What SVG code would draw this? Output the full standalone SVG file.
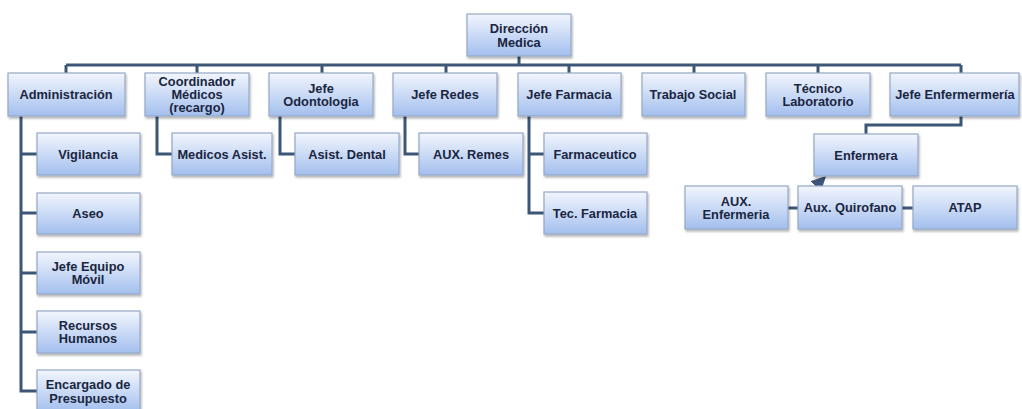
<svg xmlns="http://www.w3.org/2000/svg" width="1022" height="409" viewBox="0 0 1022 409">
<defs>
<linearGradient id="g" x1="0" y1="0" x2="0" y2="1">
<stop offset="0" stop-color="#f2f6fd"/>
<stop offset="1" stop-color="#a3bfee"/>
</linearGradient>
<filter id="sh" x="-10%" y="-10%" width="130%" height="140%">
<feDropShadow dx="1" dy="2" stdDeviation="1.2" flood-color="#000" flood-opacity="0.3"/>
</filter>
<marker id="ar" viewBox="0 0 10 10" refX="8" refY="5" markerWidth="5" markerHeight="5" orient="auto">
<path d="M0,0 L10,5 L0,10 z" fill="#3b5677"/>
</marker>
</defs>
<style>
rect{fill:url(#g);stroke:#95a8c6;stroke-width:1.2;filter:url(#sh)}
text{font-family:"Liberation Sans",Arial,sans-serif;font-weight:bold;font-size:12.8px;fill:#1a2540;text-anchor:middle;dominant-baseline:central}
.c{fill:none;stroke:#3b5677;stroke-width:3}
</style>
<g id="connectors">
<path class="c" d="M519,56 V65 M66,65 H961 M66,65 V73 M197,65 V73 M322,65 V73 M446,65 V73 M569,65 V73 M694,65 V73 M818,65 V73 M961,65 V73"/>
<path class="c" d="M21,116 V391 H37 M21,154 H37 M21,213 H37 M21,273 H37 M21,332 H37"/>
<path class="c" d="M157,116 V154 H172"/>
<path class="c" d="M280,116 V154 H295"/>
<path class="c" d="M405,116 V154 H419"/>
<path class="c" d="M529,116 V213 H544 M529,154 H544"/>
<path class="c" d="M961,116 V125 H866 V134"/>
<path class="c" d="M788,208 H798 M902,208 H913"/>
<path class="c" d="M816,186 L824,178" stroke-width="2.5" marker-end="url(#ar)"/>
</g>
<g id="direccion"><rect x="467" y="14" width="104" height="42"/><text x="519" y="28">Dirección</text><text x="519" y="42">Medica</text></g>
<g id="administracion"><rect x="8" y="73" width="117" height="43"/><text x="66" y="94.5">Administración</text></g>
<g id="coordinador"><rect x="145" y="73" width="104" height="43"/><text x="197" y="81">Coordinador</text><text x="197" y="94">Médicos</text><text x="197" y="107">(recargo)</text></g>
<g id="odontologia"><rect x="269" y="73" width="104" height="43"/><text x="321" y="88">Jefe</text><text x="321" y="101">Odontologia</text></g>
<g id="redes"><rect x="393" y="73" width="104" height="43"/><text x="445" y="94.5">Jefe Redes</text></g>
<g id="farmacia"><rect x="518" y="73" width="103" height="43"/><text x="569" y="94.5">Jefe Farmacia</text></g>
<g id="trabajo"><rect x="642" y="73" width="103" height="43"/><text x="693" y="94.5">Trabajo Social</text></g>
<g id="tecnico"><rect x="766" y="73" width="104" height="43"/><text x="818" y="88">Técnico</text><text x="818" y="101">Laboratorio</text></g>
<g id="jefe-enf"><rect x="890" y="73" width="129" height="43"/><text x="955" y="94.5">Jefe Enfermermería</text></g>
<g id="vigilancia"><rect x="37" y="133" width="103" height="42"/><text x="88" y="154">Vigilancia</text></g>
<g id="aseo"><rect x="37" y="193" width="103" height="41"/><text x="88" y="213">Aseo</text></g>
<g id="equipo"><rect x="37" y="252" width="103" height="42"/><text x="88" y="266">Jefe Equipo</text><text x="88" y="279">Móvil</text></g>
<g id="recursos"><rect x="37" y="311" width="103" height="42"/><text x="88" y="325">Recursos</text><text x="88" y="338">Humanos</text></g>
<g id="encargado"><rect x="37" y="370" width="103" height="42"/><text x="88" y="384">Encargado de</text><text x="88" y="398">Presupuesto</text></g>
<g id="medicos"><rect x="172" y="133" width="100" height="42"/><text x="222" y="154">Medicos Asist.</text></g>
<g id="dental"><rect x="295" y="133" width="104" height="42"/><text x="347" y="154">Asist. Dental</text></g>
<g id="remes"><rect x="419" y="133" width="104" height="42"/><text x="471" y="154">AUX. Remes</text></g>
<g id="farmaceutico"><rect x="544" y="133" width="103" height="42"/><text x="595" y="154">Farmaceutico</text></g>
<g id="tecfarmacia"><rect x="544" y="192" width="103" height="42"/><text x="595" y="213">Tec. Farmacia</text></g>
<g id="enfermera"><rect x="814" y="134" width="104" height="42"/><text x="866" y="155">Enfermera</text></g>
<g id="auxenf"><rect x="685" y="186" width="103" height="43"/><text x="736" y="201">AUX.</text><text x="736" y="214">Enfermeria</text></g>
<g id="quirofano"><rect x="798" y="186" width="104" height="43"/><text x="850" y="207.5">Aux. Quirofano</text></g>
<g id="atap"><rect x="913" y="186" width="104" height="43"/><text x="965" y="207.5">ATAP</text></g>
</svg>
